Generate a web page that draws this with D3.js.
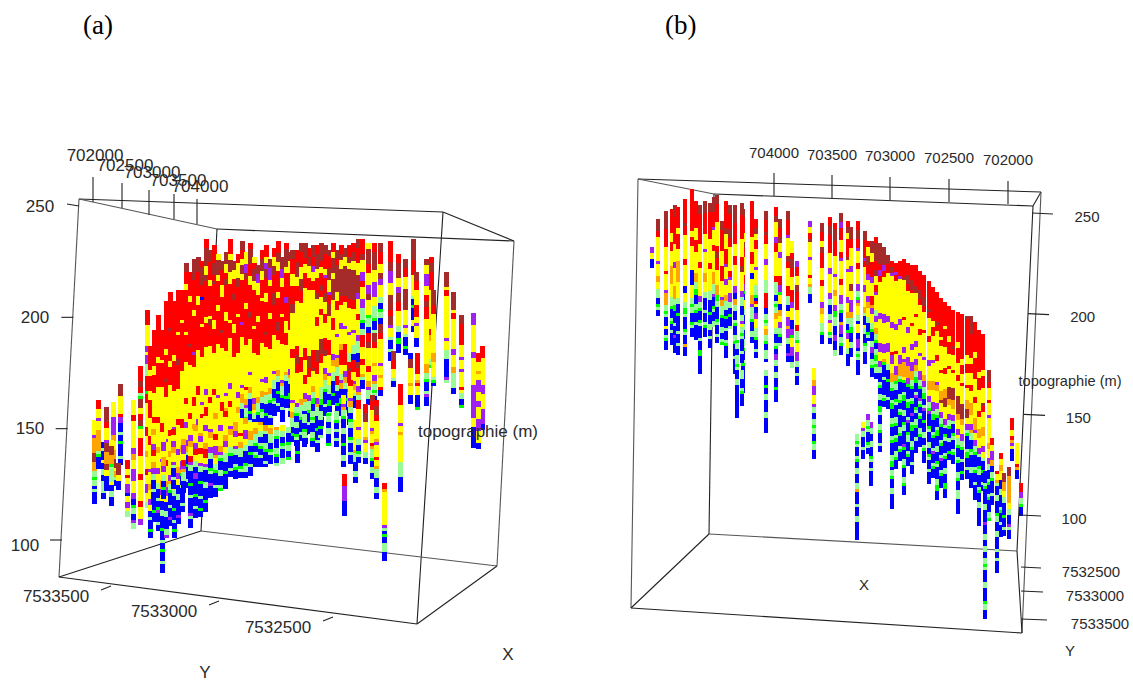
<!DOCTYPE html>
<html><head><meta charset="utf-8">
<script src="https://cdn.jsdelivr.net/npm/d3@7"></script>
<style>html,body{margin:0;background:#fff}svg{display:block}text{font-family:"Liberation Sans",Arial,sans-serif;fill:#2a2a2a}</style>
</head><body><svg id="c" width="1133" height="681"></svg>
<script>
// Lithology classes
const strataCodes = ["K","R","Y","O","P","L","G","B"];
const strataColors = ["#a52a2a","#ff0000","#ffff00","#ffa500","#a020f0","#98fb98","#00ff00","#0000ff"];
const elevTicks = [250,200,150,100];
const eastTicks = [702000,702500,703000,703500,704000];
const northTicks = [7533500,7533000,7532500];
// Holes: [position across the view, collar elevation, strata run-lengths]
const holesA = [
[34,154,"Y5P1O5K3O3L2G1L2B1L1B4"],[38,163,"R3Y3P1Y3O5O2L1G1B4"],[43,144,"B2L1B3Y1B2L2B2L4B2"],[46,160,"K5R2Y4P1K3O4K2Y2B5"],
[53,162,"Y5P6O2Y3O3K3Y1O2L1B2"],[51,145,"Y2K3O3G1L2L3Y1B2L2B3"],[60,170,"K4Y6R1P2B3L1B2G1B4L1B2"],[58,135,"K4Y2B3"],
[67,136,"R3Y2R1Y2P3B1Y2P2Y1L2"],[73,163,"Y5R2Y9P2O2Y3P4Y4P2B2G1L2B2P1L2"],[80,178,"R5K2R2L1G1K3Y2R2K2G1Y3R6Y6R2Y7R2Y4P2"],
[87,203,"R5Y7P2Y1P3L4R5G1R3Y8R3Y5O2Y4R2Y3P3Y3L2"],
[90,187,"R8Y2R5Y3R6Y6R3Y8P1Y4O2Y3P2Y2B2L1B3G1B2"],[94,194,"R12Y3R6Y8R2Y10R2P1Y5O2Y3P3L1B2G1B3"],
[98,201,"R14Y2R8Y10R2Y8O2Y5P2Y3L2B3L1B2G1P1B3L1B2"],[102,194,"R10Y1R8Y12R3Y9P1Y6O3P2Y2B3L2B4G1B3L1B2G1B3L1B3"],
[106,207,"R16Y2R8K1R5Y14P1Y6R2Y5O2P3Y2B3L2B4L2P1"],[110,211,"R12K1R10Y2R6Y15R2Y5O2Y6P2O1L2G1B4L1B3P1B2"],
[114,207,"R18Y2R10Y12P1Y6R3Y4P2O2Y3L2B4G1B3L1B2G1B2"],[118,212,"R14Y1R8K2R8Y10R2Y8P2Y4O2P2Y2B3L2B5P1B2"],
[122,212,"R10Y1R16Y16R3Y6O2Y3P3O1G1B3L1B5L1B2"],[126,224,"K3R4Y2R14Y1R9Y12R2Y6P2Y4P2O2L1B3G1B4L1B2"],
[130,220,"R8Y2R14K1R6Y16R2Y5P3O2Y2L2B4G1B5"],[134,226,"K7R10Y2R12P1R4Y10R3Y6O2P2Y3R1O1P2B3L1G1B5L1B2"],
[138,227,"K5R8Y3R9R6Y12R3Y8P2L1Y3O2P1L2B4G1B4L1B3"],[142,225,"R2K6R4B1R8Y1R10Y15P1Y3R2O3P2L2B3P1B5G1B2"],
[146,235,"R3K6Y3K2R12Y2R8Y14P2Y4R3Y3O2L3B4G1B3L1B5"],[150,230,"K4R6Y2R10Y1K2R7Y17R2Y4P2O2G2B4P1B4L1B4"],
[154,232,"R6K4R2K1R12Y3R8Y12R2Y6O3P3L2G1B3L1B4P1B2"],[158,228,"Y2K5Y2R8Y2R11Y17P1Y5O1P2L2B5G1B4L1B2"],
[162,225,"K3R5Y4R11K1R5Y18R3Y3O2P2Y1L2B4G1B5P1"],[166,229,"K4Y3R2K2R9Y3R10Y14P1Y4O3L2B3G1L1B4G1B3"],
[170,235,"R5Y2K4Y4R12Y1R5Y15P2Y4R2Y2P1O1L2B5G1B3"],[174,225,"K3Y3R5K2R8Y3R8Y16Y4O2P3B2L3G1B4L1B2"],
[178,228,"R3Y5K3R9Y1R12Y13P2Y3O2Y2L2B4G2B3L1B3"],[182,234,"K3R3Y2K3Y2R14P1R4Y16P1Y2O3L2B3G1L1B5"],
[186,229,"Y4P3K2R8Y2R12Y14R1Y3O2P1L3G1B4L2B3"],[190,233,"R2K5R4Y3R9K2R7Y11P1Y4O2L2B4G1B2L2B3"],
[194,227,"Y2R2K4Y3R12Y1R8Y15P2O2Y1L2B3G1B4L1B2"],[198,223,"K3P3Y4R7Y2R11Y14O2L3G1B3L2B5"],
[202,230,"R3K4Y3R6Y1R14Y12P1Y3O2L2B2G1L2B4"],[206,232,"R4Y2P2K3R5Y3R10K1R4Y10P2Y3O1L3B3G1B3L1B2"],
[210,226,"K3P4Y2R9Y2R10Y13O2L2G1B4L1B3"],[214,231,"R3Y3K3R6K4R10Y12P1Y2L3B3G1L1B4"],
[218,234,"R4K3Y3R7Y2R8K3R3Y10O2L2B3G1B3L1B2"],[222,227,"K4P3Y3R9Y1R9Y12P1O1L3G1B3L1B4"],
[226,233,"R2K6Y2R8P2R6Y4R4Y9O1L2B5G1B3"],[230,229,"K3Y4R8K2R9Y13P2O1L2B3G2B3L1B2"],
[232,230,"K3R5Y4R6K3Y12R3Y14P1Y3O2L3B2G1B2"],[237,230,"R4K5Y3R5Y15R3K3R3Y10P2Y3R3O1L3B4G1B3"],
[241,233,"K3R5Y4K4R4Y18R5Y9O2L4G1B4L1B2"],[245,233,"K5R2Y3R5Y20R4Y5R3Y3P2O1L3B3G1B4L1B2"],
[249,231,"R3K3Y4R4Y22K4R3Y6P2L3G1B3L1B3"],[253,232,"K4R3P2Y3R3Y20R6K1Y5O2L2G2B3L1B3"],
[257,232,"R3K5Y3R5K2Y6R3Y8K4R4Y8P2O1L3B4G1B3L1B3"],[261,233,"K6R2Y2R4K2R2Y4R2Y8K5R3Y8L4G2B3L1B3"],
[265,232,"K3R5Y2P1R5K3Y4R3Y5R4K2Y4P2O2L3G1B4L1B3"],[269,230,"K2R4K4Y4P1R3K4Y8R5Y6P1Y3L3B2G2B2L1"],
[273,233,"R3Y2K5Y2K7Y6R4Y8P2O2Y2L3B4G1B3"],[277,230,"K3R2K9Y3R3Y8P1Y6P1O3L3R3L2B4G1B3"],
[281,232,"R3K2Y3K9R3Y6P2Y5O2R5Y3L2P1O2B3G2B4"],[285,231,"K3Y3K10R2Y8P1Y5R7Y2P2O2L2B3G1B3L1"],
[284,130,"R4P5B5"],[289,232,"R4K2Y2K10R3Y8P1Y6L3R2K1R4Y2P1O3L2B3G1B2"],
[293,233,"R3K3Y3K10R3Y7P1Y4L3B2R4Y3P1O2Y1L1B4"],[298,235,"K3R5Y4K6P2Y5R2Y5P2L4B3K2R3Y3P2O1L2B3"],
[302,235,"R5K2Y4P3R2Y4P3L4G1B2L2R4Y4R2Y3O1L1B3"],[308,233,"Y2K5R3Y4P3K2Y5G1L3B2R3K2Y6R2Y3O2P1L3B2"],
[314,233,"R3K6Y4P5Y3L4G1B3L1K3R2Y5O1Y3P2O1L2G1L1B2"],[320,233,"K3R4Y3K2P2Y4L2B2G1L2B2K3R2Y8P1Y3O1Y3R1B2"],
[324,126,"R2O1Y11P1L1B1G1B2L3B3"],[330,234,"R7K3P4Y4K5R2K3P1Y3L1B3L1B3"],[333,185,"K3R3Y3L1B2"],
[340,170,"R7Y6P1Y2O1Y9L5B5"],[338,228,"R3K5Y3P2K3R3Y5L2B2G2B3"],[345,226,"K3R3Y4K7Y5P1Y2L1B3G1B2"],[350,184,"B2K3Y5O1Y3B3"],
[353,235,"K7R5Y7L1B2G1B4Y2B2"],[356,220,"K3R3Y5R4Y2P1Y4B3"],[357,184,"R7Y2O1R1Y3B4G1"],[366,226,"K2Y3P4Y3R2K2R4Y15O3L2G1B3L1P1B3"],
[371,227,"R2K3R6Y13R2O2Y6L2G1"],[373,212,"K5R3Y13O3Y5L1G1B1"],[386,220,"K5Y1R2Y14P1Y3L3B6P1L1"],[393,211,"K6Y1R2Y10P2Y4O2L5B2"],
[401,201,"K3R7Y4P1Y3P1Y5R1Y1L2B2G1"],[413,202,"P4Y9P2Y9P11Y3B7"],[422,187,"R4Y9P3Y5P5B2"],[418,184,"R3Y3O1Y2P4Y3P2Y4P4Y4B2"],
[130,150,"Y2P2O2Y3R2P1L2B4G1B3L1B5P1L1B3"],[135,152,"O2Y4P2R2Y2L2B2P2B5G1B3L1B3"],[140,155,"Y5O1P2Y2R2Y3P1L2B3G1B4L1B3G1B2"],[145,156,"Y3P2Y4O2R3Y2P1L1B4L2B4G1B3"],
[150,158,"Y6P1O2Y3P2L2B3G1L1B3P1B4"],[155,156,"O1Y5R2Y2P3O1Y2L2G1B4L1B3"],[160,157,"Y4P2Y5O2P1L1G1B3L2B3L1G1"],[165,158,"R2Y6O2P2Y2L3B3G1B5"],
[170,158,"Y5P1O2Y4L2G1B4L1B2"],[175,157,"Y3O3P2Y3P1L2B3L1G1B3"],[180,155,"Y5R1Y2O2L3B3G1L1B2"],[185,155,"O2Y2P3Y2L2B4G1L2B2"],
[190,153,"Y3O3L2B2G1B3L1B3"],[195,153,"Y2O2L3G1B2L1G1B3"],[200,153,"O1Y2L2B2L1G1B2L1B3"],[205,152,"O2L1B3L2G1B3L1B1"],[210,152,"Y1O2L3B2G1L1B3"],
[216,151,"O1L2G1B3L2G1B2L1"],[222,152,"Y2L2B2G1L1B3L2"],[228,151,"L2B3G1L2B2G1"],
[93,150,"O2Y3P2R2Y2O2P2L2B3L1B4"],[103,148,"Y3P3Y2O3P2Y1L2B2G1B3"],[113,150,"R2Y2P2O2Y3P1L1B3L1B3"],[123,148,"Y2O2P3Y2R2P1O1L3B4"],
[283,165,"Y3P1O1L2G1B3L2B3G1B3L2B2"],[290,172,"R2Y4P1O2L2B2G1L2B3G1L1B3L1B3"],[295,154,"Y10O1L3B3L2B2"],[298,163,"R3Y6P1Y3L2B2G1L1B2"],
[305,161,"R3K3Y5O1P1Y3L2B2"],[312,165,"K2R3Y6P1O1Y3R1O1L3G1B2L2B2"],[316,163,"R2K3R2Y6O1P1Y4R1Y2O1L3B3L2B2"],
[236,160,"L2G1B2L2B2G1L1B2"],[244,158,"B1L3B2G1L2B3"],[252,158,"L2G1L1B3L2G1B2"],[260,158,"L3B2G1B2L1"],[268,157,"G1L2B2L2B3G1"],[276,158,"L3G1B2L1B2L1B2"]
];
const holesB = [
[22,233,"P2Y2B3"],[28,247,"K4R2Y8P1Y4O2Y2L3B2G1L1B2"],[36,251,"K6R6Y8R1Y5P1O4L2G1L1B3Y1B2L1G1B3"],[42,252,"R8Y3R3Y5O6Y4L3G1B3L1G1B2L1B4"],
[45,254,"K4R9Y6P2Y6O4L2G2B4L1B3P1B5"],[55,257,"R8K1R3Y8R2Y7B2Y3L2G2L1B4G1L1B3O1B3"],[48,253,"R7Y2R5Y4O7Y5L2B3G1B5L1B3L1B3"],
[62,262,"R14Y2R3Y8B5Y4L2G1L2B3G1L1B3"],[70,254,"K3R10Y6R2Y9P2L2G1B3G1L1B4L1B3G2B6"],[66,256,"R9Y4R4Y7O3L2G2B3L2G1B3L1B5"],
[75,256,"K4R7Y5P1Y7O3Y3L2B4L1B3L1G1B3"],[80,255,"K3R9Y8R2Y7L3B4G1B3L2B2L1B3"],[84,258,"K5R5P1Y5R2Y7O4L3P1B3G1L1B3L2"],
[87,259,"K3R6Y8R2K2R4Y5O3G2L2B4G1L1B3L1B2"],[92,246,"K3R7Y5R5Y5P1O2L3G1B3L2B2L1G1"],[96,256,"R9K2Y5R5P1Y4P2Y3O2L3B2G1B3L1B3L1G1B4"],
[100,254,"K3R5K3R3Y8R2P1Y4P3L2B2G1B3L1"],[105,254,"K6R7Y4R3Y7P2B2O2L2B3L1G1B3L2G1B4L1B5"],[113,252,"K3R5Y3K2R3Y6R3P2G1B2Y3L2B3L2B3L3G1B3L1G1B3B6"],
[112,255,"K4R8Y6R3K2Y6P2L3B3L2P1Y1L2G1L1B4L1B3"],[122,256,"R12Y5R4Y3B2Y5O3P1L4G1B3L2B2"],[126,247,"R3K2Y2R3Y6P1Y5L3G1B1R1Y1B2P2Y3L3G1B3L1B2"],
[136,251,"K3R4K1R3Y5P2Y5L4R5B2L2G1L1Y1O2L2G1B2L3B1"],[146,253,"R3K2Y5P2R3Y8R2L4B2L1G1L2O2Y3L2B3L1G1B3L1"],
[150,247,"K3R3K2Y3P2Y6R3P2G1Y3B2O2Y2P2L2G1B2L1"],[158,251,"K3R5P1Y6K2R2Y6R3L3B2Y2P3O1P3L2B3P1B2"],[162,236,"Y4R2K3R3Y4R4P2Y4B3P2G1Y3P3B2L2"],
[167,226,"P2R3Y3K2R6Y5R2L3G1Y3P3L2B2L1B3"],[180,246,"P2Y2R2K1Y5P1Y5R1Y2O1L2B3"],[184,173,"Y4O2P3Y3P1L2B2L2G1L2B2G1L2B3"],
[192,245,"K3R3Y2K2R5Y4R2Y5P2O2Y3L3G1B3"],[200,248,"R3K3R6Y5P2Y6P2L2B3L2P1Y3G1L1B2"],[205,245,"R2K4R5Y6P1Y4O2Y3P2G2L3B3P2B3L2"],
[211,250,"K3P2R4Y4R2P1Y6R2Y3P3L2G1B3O1P3B1L2G1B3"],[218,246,"R2K2Y2R6K1Y3P1Y8P2Y3O2L2B2G1P2Y3L2B4"],
[221,243,"K4R3Y6P2Y4K2Y3P4O2L3G2B3L2B3"],[228,246,"R3K3R3P1Y4R2Y5P2L2G1P1O1Y3L2B1Y3B2P3B1L1G1L1B5"],
[235,241,"K3R6P1R2Y6P2Y5O2L1B3Y1L2B3G1L2B4"],[238,236,"R2Y3K3R3P2Y5P2O2Y3L2B3G1L1B1"],[242,236,"K4Y3R5P2Y4R3O1P2Y3L2G1B3L2P2B2L2G1B3"],
[246,238,"R2K6R3K2Y3R2P1Y5L2P2Y2O2L2G1B2L2G2L1G1L2B2"],
[250,235,"K7R2P2R2Y10P2Y8P3Y3P2L2B3L1G1B2L2B2G2L1B3L2G1B3L1B2"],[254,233,"K6P2R2Y12P3Y7P3Y2O1G1B4L1B5L1G1B2"],
[258,229,"K3R3Y14P2Y7P3Y4L2B3G1B5L1B3"],[262,226,"R2K2P1Y15P2Y8R1P3Y3O3L2G1B3L1G2B3L2G1B3L1G1B4L2G2B1L2G1B3L2B2B3"],
[266,225,"R3P1R2Y14P2Y7R1Y4P3O2G1L2B3G1L1B4L2G1B3L1G1B3L2G1B3"],[270,226,"R5P1Y13P2Y7Y3P3O4L1G1B4L2G1B2L1G1B4L2G1B3L1G1B3"],
[274,227,"R6K1Y12R1Y9P2Y2P1O5Y1G1B3L1G2B3L2B2G1L2B4P1G1B3L2G1B3L2G1B3"],[278,225,"R4K3R2Y12P2Y8P3O4P2G1B4L1G2B3L1P1B3G1L2B3L1G1B3"],
[282,224,"R5K3R1Y10R1Y6P2Y4P3O3L2G1B3L1G1B3P1B2L1G2B3L2G1B4L1B3"],[286,224,"R7K2Y7R1Y8P2Y4P2O2L2G2B3L1P1B3G1L1B2L2G1B3L1B4"],
[290,221,"R6K3R2Y8R2Y6P1Y5P3L2G1B3P1L1G1B2L1G1B3L2G1B3"],[294,219,"R7K3R2Y6R1Y8P1Y5O2P2L2G2B2L1P1B3G1B3L2B2L1G1B4"],
[299,216,"R9K1R2Y6R2Y6P2Y5O3Y2P2L2G1P1B4G1L1B3L2B2G1L1B3L1B4"],[303,213,"R11Y2R3Y8P1Y6O3Y4P3L1G2B4L1G1B3L1P1B3L1G1B3"],
[307,211,"R10K1R2Y8R2Y7P1O2Y4P2L2G1B3L1G2B3L2B3G1L1B4L2G2B3"],[311,208,"R13Y1R2Y8R1Y6O3K1Y3P2L2G1B4L1G1B3L1P1B3L1G1B4"],
[315,206,"R8Y1R6Y7R2Y5O3K3Y4P2L1B2G1L1B4L1G1B3L2B3G2B3"],[319,204,"R10Y2R4Y4R1Y6K4O2Y3P2L2G1B3L1B3G1B2"],
[323,202,"R12K1R2Y5R1Y5K4O3Y2P2L1B3G1L1B3L1G1B3"],[328,201,"R10Y2R5Y4R2Y5K6O2Y3P2Y1L2G1B3L1G1B3L2G1B3L3B5"],
[332,200,"R15Y2R3Y3R1Y6K5O2Y3P2L2G1B3L1B3G1B2"],[337,199,"K1R12Y3R3Y4R1Y4O3K3Y2P2L1G1B4L1G2B3L1B3"],
[341,199,"K6R8Y2R3Y4R2Y4O4Y3P2O1L2B3G1L1B4L2B5"],[345,196,"R10Y2R7Y6R2Y5O4P1Y2P2L2G1B4L1G1B3L1B5"],
[349,192,"R14Y2R4Y7R2Y4O3Y3P2L1B3G1L2B4L1G1B3L2B6"],[353,190,"R12Y2R4Y5K1R2Y5O3Y3P2Y2L1B3G1B3L1B2"],
[355,122,"B4L1G1B5L2B4P1B3L2B2L2B2L2G1L1B4L2B4G1L2B3"],[359,172,"K4R2Y4R1Y4P1Y8O2Y3P2L2B3L1G1B3L1G1B4L2G1"],
[362,138,"R2Y2P3O2B2L2G1B4L1B3"],[367,122,"R1Y2O1L1B3L2B4G1L2B3L2B4L1B2L1B4"],[371,131,"R2Y2O2Y3B3L2B4L1G1B3L1B4"],[374,121,"K3O3Y2L2B4G1B3L1B2"],
[379,124,"K3O9Y2L2B3P1L1B3"],[382,148,"R4Y2R1O1P1Y1B4"],[387,136,"Y7R1O1B3"],[391,116,"R3P2L2G1B3"],
[107,187,"G1L2B2L3G1L1B3L2B5B6"],[112,172,"L3B3L1G1B4"],[136,172,"L2B3G1B2L2B4L2B5"],[146,180,"P2L2B2L2B3G1B4"],[227,140,"L2G1L1B3L1G1B2L2B3L2O1B4L1B3L2B6"],
[241,146,"P2L2B2L2B3G1L1B2L1B5"],[233,146,"Y2P1L2B3L1B3"],[238,150,"P2L2G1L1B3G1L1B2"]
];
const svg = d3.select("#c");
const colorOf = d3.scaleOrdinal(strataCodes, strataColors);
const parseStrata = s => Array.from(s.matchAll(/([A-Z])(\d+)/g), m => [m[1], +m[2]]);
function tick(g, a, b, c){ g.append("line").attr("x1",a[0]).attr("y1",a[1]).attr("x2",b[0]).attr("y2",b[1]).attr("stroke",c||"#222").attr("stroke-width",1.1); }
function label(g, t, x, y, fs){ g.append("text").attr("x",x).attr("y",y).attr("text-anchor","middle").attr("dominant-baseline","central").attr("font-size",fs).text(t); }
function drawHoles(g, holes, xs, ys, step, w){
  const segs = [];
  holes.forEach(([p,e,s]) => { let d = 0; parseStrata(s).forEach(([c,n]) => { segs.push({p,e,c,d,n}); d += n; }); });
  g.selectAll("rect").data(segs).join("rect")
    .attr("x", d => xs(d.p) - w/2).attr("width", w)
    .attr("y", d => ys(d.e - d.d*step)).attr("height", d => ys(d.e - (d.d+d.n)*step) - ys(d.e - d.d*step))
    .attr("fill", d => colorOf(d.c)).attr("shape-rendering","crispEdges");
}
function frame(g, edges){ edges.forEach(([a,b],i) => tick(g,a,b, i%3==1?"#555":"#222")); }

// Panel (a)
{
  const g = svg.append("g");
  const P = {tl:[79,199],tb:[217,229],tr:[443,212],tbr:[514,241],bl:[59,577],bb:[201,531],br:[417,624],bbr:[497,566]};
  frame(g, [[P.tl,P.tr],[P.tl,P.tb],[P.tb,P.tbr],[P.tr,P.tbr],[P.tl,P.bl],[P.tb,P.bb],[P.tr,P.br],[P.tbr,P.bbr],[P.bl,P.br],[P.bl,P.bb],[P.bb,P.bbr],[P.br,P.bbr]]);
  const xs = d3.scaleLinear([0,460],[60,520]);
  const ys = d3.scaleLinear([250,100],[205,541]);
  drawHoles(g.append("g"), holesA, xs, ys, 3/2.24, 5);
  const topX = d3.scaleLinear(eastTicks,[93,122,149,174,197]);
  const topY = d3.scaleLinear(eastTicks,[202,208,215,219,224]);
  const lblX = d3.scaleLinear(eastTicks,[95,125,152,178,200]);
  const lblY = d3.scaleLinear(eastTicks,[155,165,172,180,186]);
  eastTicks.forEach(v => { tick(g,[topX(v),topY(v)-25],[topX(v),topY(v)]); label(g,v,lblX(v),lblY(v),17); });
  const zx = d3.scaleLinear([250,100],[79,62]);
  const lblZ = d3.scaleLinear([250,100],[40,25]);
  const zy = d3.scaleLinear([250,100],[206,540]);
  elevTicks.forEach(v => { tick(g,[zx(v)-12,zy(v)-(v==250?2:0)],[zx(v),zy(v)]); label(g,v,lblZ(v),zy(v)+(v==100?5:0),17); });
  const nx = d3.scaleLinear(northTicks,[111,219,333]);
  const ny = d3.scaleLinear(northTicks,[586,601,617]);
  northTicks.forEach(v => { tick(g,[nx(v)-10,ny(v)+4],[nx(v),ny(v)]); label(g,v,nx(v)-55,ny(v)+10,17); });
  label(g,"topographie (m)",478,431,17);
  label(g,"X",508,654,17);
  label(g,"Y",205,672,17);
  g.append("text").attr("x",83).attr("y",34).style("font-family","Liberation Serif").attr("font-size",27).style("fill","#000").text("(a)");
}
// Panel (b)
{
  const g = svg.append("g");
  const P = {tl:[638,179],tb:[714,194],tr:[1041,192],trf:[1033,206],bl:[631,608],bb:[709,534],br:[1022,633],bbr:[1017,551]};
  frame(g, [[P.tl,P.tr],[P.tl,P.tb],[P.tb,P.trf],[P.trf,P.tr],[P.tl,P.bl],[P.tb,P.bb],[P.trf,P.bbr],[P.tr,P.br],[P.bl,P.br],[P.bl,P.bb],[P.bb,P.bbr],[P.bbr,P.br]]);
  const xs = d3.scaleLinear([0,400],[630,1030]);
  const ys = d3.scaleLinear([250,100],[213,515]);
  drawHoles(g.append("g"), holesB, xs, ys, 1.5, 4.5);
  const topX = d3.scaleLinear(eastTicks,[1008,949,890,832,774]);
  const topY = d3.scaleLinear(eastTicks,[204,202,200,198,196]);
  const lblY = d3.scaleLinear(eastTicks,[159,157,155,154,152]);
  eastTicks.forEach(v => { tick(g,[topX(v),topY(v)-23],[topX(v),topY(v)]); label(g,v,topX(v),lblY(v),15); });
  const zy = d3.scaleLinear([250,100],[213,515]);
  const zx = d3.scaleLinear([250,100],[1032,1020]);
  const lblZ = d3.scaleLinear([250,100],[1087,1074]);
  elevTicks.forEach(v => { tick(g,[zx(v),zy(v)],[zx(v)+21,zy(v)+1]); label(g,v,lblZ(v),zy(v)+3,15); });
  const ny = d3.scaleLinear(northTicks,[619,591,567]);
  const nlx = d3.scaleLinear(northTicks,[1100,1095,1091]);
  northTicks.forEach(v => { tick(g,[1021,ny(v)],[1021+(v==7533500?26:v==7533000?22:20),ny(v)+1]); label(g,v,nlx(v),ny(v)+4,15); });
  label(g,"topographie (m)",1070,381,14.6);
  label(g,"X",864,584,15);
  label(g,"Y",1070,650,15);
  g.append("text").attr("x",665).attr("y",34).style("font-family","Liberation Serif").attr("font-size",27).style("fill","#000").text("(b)");
}
</script></body></html>
